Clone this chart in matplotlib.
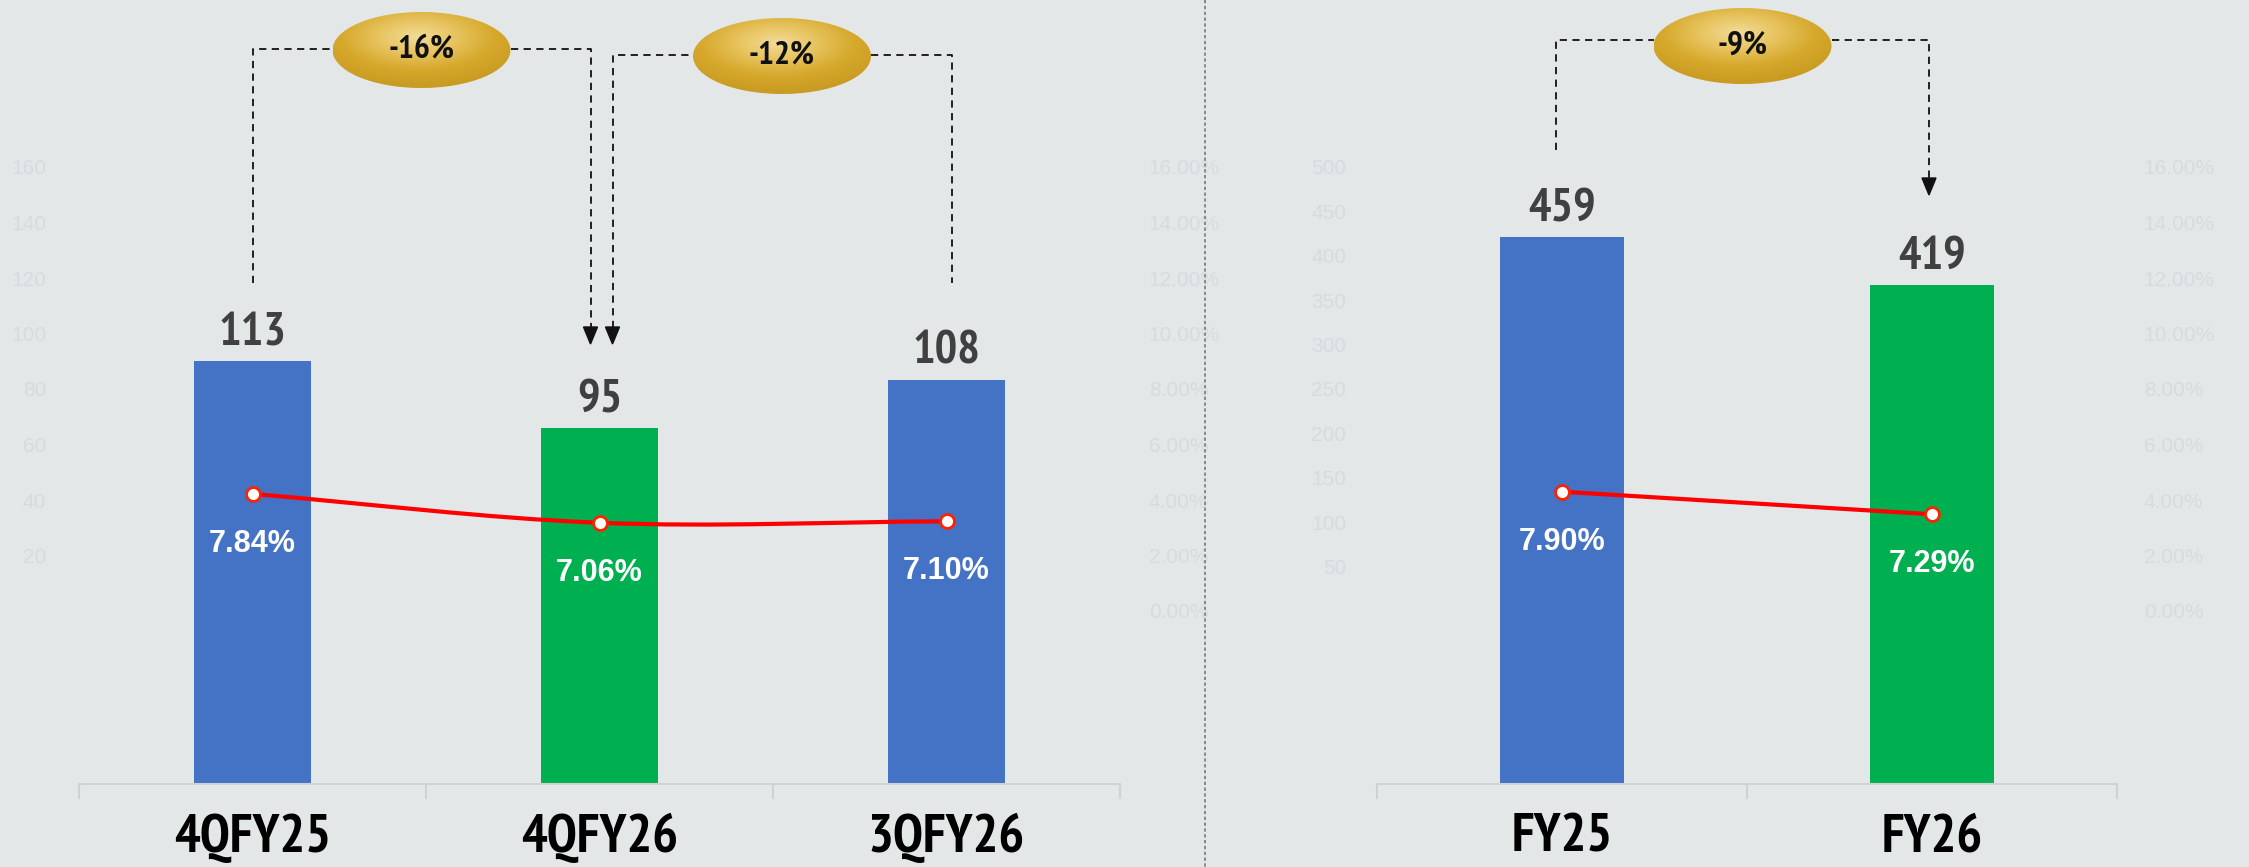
import numpy as np
import matplotlib.pyplot as plt
from matplotlib.patches import Ellipse, Polygon, PathPatch
from matplotlib.path import Path
from matplotlib.colors import LinearSegmentedColormap
from matplotlib import font_manager

W, H, DPI = 2249, 867, 100

# quarterly panel
q_labels = ['4QFY25', '4QFY26', '3QFY26']
q_values = [113, 95, 108]
q_ratio = [7.84, 7.06, 7.10]
q_colors = ['#4472c4', '#00b050', '#4472c4']

# full year panel
fy_labels = ['FY25', 'FY26']
fy_values = [459, 419]
fy_ratio = [7.90, 7.29]
fy_colors = ['#4472c4', '#00b050']

changes = ['-16%', '-12%', '-9%']

# faint axis labels left over in the background
ghost_q_ticks = [20, 40, 60, 80, 100, 120, 140, 160]
ghost_fy_ticks = [50, 100, 150, 200, 250, 300, 350, 400, 450, 500]
ghost_pct_ticks = [0, 2, 4, 6, 8, 10, 12, 14, 16]

BG = '#e3e7e8'
GHOST = '#d7dbdd'
AXIS = '#cfd1d4'
installed = {f.name for f in font_manager.fontManager.ttflist}
NARROW = [f for f in ['Liberation Sans Narrow', 'Arial Narrow', 'PT Sans Narrow', 'Archivo Narrow',
                      'Roboto Condensed', 'Open Sans Condensed', 'IBM Plex Sans Condensed']
          if f in installed][:1] + ['DejaVu Sans']
ARIAL = ['Liberation Sans', 'DejaVu Sans']

fig = plt.figure(figsize=(W / DPI, H / DPI), dpi=DPI, facecolor=BG)


def px_box(x0, y0, x1, y1):
    # pixel box, origin at top left -> figure fraction rect
    return [x0 / W, 1 - y1 / H, (x1 - x0) / W, (y1 - y0) / H]


def ghost_axes(x0, x1, left_ticks, left_max):
    g = fig.add_axes(px_box(x0, 167, x1, 611))
    g.patch.set_alpha(0)
    for s in g.spines.values():
        s.set_visible(False)
    g.set_xticks([])
    g.set_ylim(0, left_max)
    g.set_yticks(left_ticks)
    g.tick_params(length=0, pad=2, labelsize=15, labelcolor=GHOST)
    for t in g.get_yticklabels():
        t.set_family(ARIAL)
    g2 = g.twinx()
    for s in g2.spines.values():
        s.set_visible(False)
    g2.set_ylim(0, 16)
    g2.set_yticks(ghost_pct_ticks)
    g2.set_yticklabels([f'{t:.2f}%' for t in ghost_pct_ticks], family=ARIAL)
    g2.tick_params(length=0, pad=2, labelsize=15, labelcolor=GHOST)


ghost_axes(49, 1146, ghost_q_ticks, 160)
ghost_axes(1349, 2141, ghost_fy_ticks, 500)


def smooth_path(xs, ys):
    # catmull-rom style smoothing like an office "smoothed line"
    pts = np.column_stack([xs, ys]).astype(float)
    n = len(pts)
    tang = np.zeros_like(pts)
    for i in range(n):
        a = pts[max(i - 1, 0)]
        b = pts[min(i + 1, n - 1)]
        tang[i] = (b - a) / (2 if 0 < i < n - 1 else 1)
    verts = [pts[0]]
    codes = [Path.MOVETO]
    for i in range(n - 1):
        verts += [pts[i] + tang[i] / 3, pts[i + 1] - tang[i + 1] / 3, pts[i + 1]]
        codes += [Path.CURVE4] * 3
    return Path(verts, codes)


def draw_panel(box, labels, values, ratio, colors, vmax, pmax):
    ax = fig.add_axes(px_box(*box))
    ax.patch.set_alpha(0)
    x = np.arange(len(labels))
    ax.bar(x, values, width=0.335, color=colors, zorder=2)
    ax.set_xlim(-0.5, len(labels) - 0.5)
    ax.set_ylim(0, vmax)
    for s in ['left', 'right', 'top']:
        ax.spines[s].set_visible(False)
    ax.spines['bottom'].set_color(AXIS)
    ax.spines['bottom'].set_linewidth(1.5)
    ax.set_yticks([])
    ax.set_xticks(x)
    ax.set_xticklabels(labels, family=NARROW, fontweight='bold', fontsize=39)
    ax.tick_params(axis='x', length=0, pad=21)
    ax.set_xticks(np.arange(-0.5, len(labels)), minor=True)
    ax.tick_params(axis='x', which='minor', length=11, width=1.5, color=AXIS)
    for xi, v in zip(x, values):
        ax.annotate(str(v), (xi, v), xytext=(0, 5), textcoords='offset points',
                    ha='center', va='bottom', fontsize=34, fontweight='bold',
                    color='#404040', family=NARROW)

    lx = ax.twinx()
    lx.set_ylim(0, pmax)
    lx.axis('off')
    lx.add_patch(PathPatch(smooth_path(x, ratio), fill=False, edgecolor='#ff0000',
                           lw=3, zorder=3))
    lx.plot(x, ratio, 'o', ms=10, mfc='white', mec='#ff2200', mew=2, zorder=4)
    for xi, r in zip(x, ratio):
        lx.annotate(f'{r:.2f}%', (xi, r), xytext=(0, -36), textcoords='offset points',
                    ha='center', va='center', color='white', fontsize=22,
                    fontweight='bold', family=ARIAL)
    return ax


ax_q = draw_panel((79, 0, 1120, 784), q_labels, q_values, q_ratio, q_colors, 784 / 3.743, 784 / 37)
ax_fy = draw_panel((1377, 0, 2117, 784), fy_labels, fy_values, fy_ratio, fy_colors, 784 / 1.191, 784 / 37)

# overlay in pixel coordinates for separator and change bubbles
ov = fig.add_axes([0, 0, 1, 1], zorder=10)
ov.patch.set_alpha(0)
ov.axis('off')

ov.plot([1205, 1205], [0, H], color='#7a7a7a', lw=1.2, ls=(0, (2, 1.5)))

gold = LinearSegmentedColormap.from_list('gold', ['#f2dc98', '#e8c460', '#d6a92c', '#c99b22'])
yy, xx = np.mgrid[-1:1:120j, -1:1:240j]
glow = np.sqrt((xx + 0.05) ** 2 + (yy + 0.35) ** 2)


def bar_px(ax, i):
    return ax.transData.transform((i, 0))[0]


# (axis, source bar, dx, bottom, arrow), (target bar, dx, bottom, arrow), line level, bubble y
brackets = [
    (ax_q, 0, 0, 283, False, 1, -9, 344, True, 49, 50),
    (ax_q, 1, 13, 344, True, 2, 5, 283, False, 55, 56),
    (ax_fy, 0, -6, 150, False, 1, -3, 195, True, 40, 46),
]
bw, bh = 178, 76
dash = dict(color='#111111', lw=1.3, ls=(0, (4, 3)))
for (ax, ia, dxa, ba, arra, ib, dxb, bb, arrb, lev, cy), txt in zip(brackets, changes):
    xa = bar_px(ax, ia) + dxa
    xb = bar_px(ax, ib) + dxb
    cx = (xa + xb) / 2
    ov.plot([xa, xa, cx - bw / 2], [ba - (16 if arra else 0), lev, lev], **dash)
    ov.plot([cx + bw / 2, xb, xb], [lev, lev, bb - (16 if arrb else 0)], **dash)
    for xx_, bot, arr in [(xa, ba, arra), (xb, bb, arrb)]:
        if arr:
            ov.add_patch(Polygon([(xx_ - 7, bot - 17), (xx_ + 7, bot - 17), (xx_, bot)],
                                 closed=True, color='#111111', zorder=5))
    ell = Ellipse((cx, cy), bw, bh, facecolor='none', edgecolor='none')
    ov.add_patch(ell)
    im = ov.imshow(glow, cmap=gold, vmin=0, vmax=1.3, aspect='auto', zorder=6,
                   extent=(cx - bw / 2, cx + bw / 2, cy + bh / 2, cy - bh / 2))
    im.set_clip_path(ell)
    ov.text(cx, cy, txt, ha='center', va='center', fontsize=24, fontweight='bold',
            family=NARROW, color='#111111', zorder=7)

ov.set_xlim(0, W)
ov.set_ylim(H, 0)

fig.savefig('out.png', dpi=DPI, facecolor=BG)
